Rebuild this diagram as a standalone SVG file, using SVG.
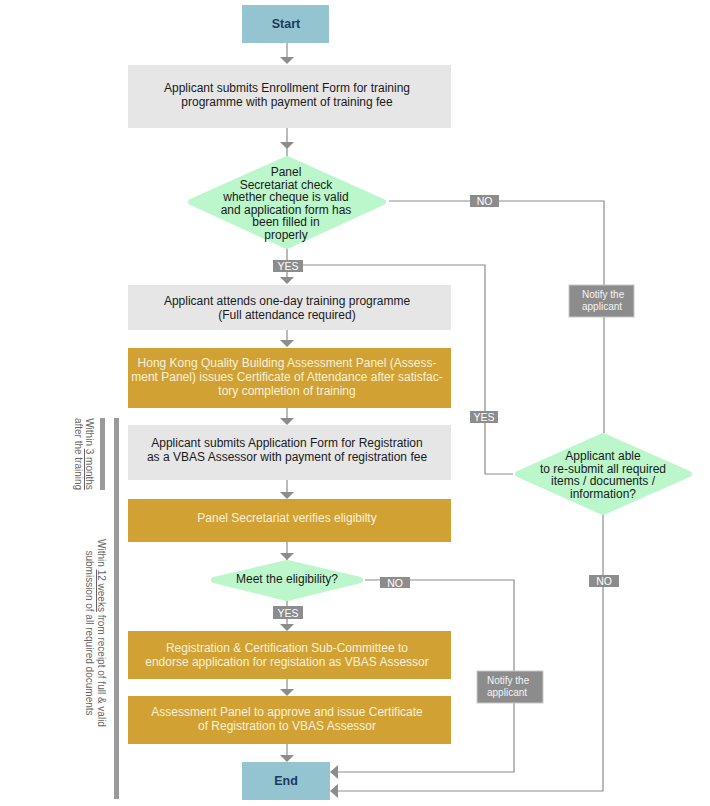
<svg xmlns="http://www.w3.org/2000/svg" width="710" height="806" viewBox="0 0 710 806">
<defs>
<style>
text{font-family:"Liberation Sans",Arial,sans-serif}
.term{fill:#93c4cf}
.termt{font-size:12.5px;font-weight:bold;fill:#1c3a5e;text-anchor:middle}
.gbox{fill:#e6e6e6}
.gt{font-size:12px;fill:#1a1a1a;text-anchor:middle}
.au{fill:#d1a233}
.aut{font-size:12px;fill:#f8f0da;text-anchor:middle}
.dia{fill:#bbf7cb;stroke:#bbf7cb;stroke-width:6;stroke-linejoin:round}
.dt{font-size:12px;fill:#1a1a1a;text-anchor:middle}
.lbl{fill:#8c8c8c}
.lt{font-size:10.5px;fill:#ffffff;text-anchor:middle}
.nb{fill:#8c8c8c;stroke:#c8c8c8;stroke-width:1}
.nt{font-size:10px;fill:#f4f4f4}
.ln{fill:none;stroke:#8c8c8c;stroke-width:1.2}
.ah{fill:#8c8c8c}
.bar{fill:#9a9a9a}
.vt{font-size:10px;fill:#666666;text-anchor:middle}
</style>
</defs>
<g id="connectors">
<path class="ln" d="M287,42V58"/>
<path class="ah" d="M280,57H294L287,64Z"/>
<path class="ln" d="M287,128V156"/>
<path class="ah" d="M280,142H294L287,149Z"/>
<path class="ln" d="M287,249V278"/>
<path class="ah" d="M280,277H294L287,284Z"/>
<path class="ln" d="M303,265H485V474H513"/>
<path class="ln" d="M389,201H604V433"/>
<path class="ln" d="M287,330V341"/>
<path class="ah" d="M280,340H294L287,347Z"/>
<path class="ln" d="M287,408V419"/>
<path class="ah" d="M280,418H294L287,425Z"/>
<path class="ln" d="M287,480V493"/>
<path class="ah" d="M280,492H294L287,499Z"/>
<path class="ln" d="M287,542V561"/>
<path class="ah" d="M280,553H294L287,560Z"/>
<path class="ln" d="M287,600V625"/>
<path class="ah" d="M280,624H294L287,631Z"/>
<path class="ln" d="M287,679V690"/>
<path class="ah" d="M280,689H294L287,696Z"/>
<path class="ln" d="M287,744V756"/>
<path class="ah" d="M280,755H294L287,762Z"/>
<path class="ln" d="M365,580H514V772H337"/>
<path class="ah" d="M338,765V779L330,772Z"/>
<path class="ln" d="M603,515V791H337"/>
<path class="ah" d="M338,784V798L330,791Z"/>
</g>
<g id="start">
<rect class="term" x="242" y="5" width="87" height="38"/>
<text class="termt" x="286" y="28">Start</text>
</g>
<g id="enroll">
<rect class="gbox" x="128" y="65" width="323" height="63"/>
<text class="gt" x="287" y="92">Applicant submits Enrollment Form for training</text>
<text class="gt" x="287" y="106">programme with payment of training fee</text>
</g>
<g id="check">
<polygon class="dia" points="287,159 383,202 287,246 191,202"/>
<text class="dt" x="286" y="176">Panel</text>
<text class="dt" x="286" y="188.5">Secretariat check</text>
<text class="dt" x="286" y="201">whether cheque is valid</text>
<text class="dt" x="286" y="213.5">and application form has</text>
<text class="dt" x="286" y="226">been filled in</text>
<text class="dt" x="286" y="238.5">properly</text>
</g>
<g id="yes1">
<rect class="lbl" x="273" y="260" width="30" height="12"/>
<text class="lt" x="288" y="270">YES</text>
</g>
<g id="no1">
<rect class="lbl" x="470" y="195" width="29" height="12"/>
<text class="lt" x="484.5" y="205">NO</text>
</g>
<g id="notify1">
<rect class="nb" x="569" y="285" width="65" height="32"/>
<text class="nt" x="582" y="298">Notify the</text>
<text class="nt" x="582" y="310">applicant</text>
</g>
<g id="attend">
<rect class="gbox" x="128" y="285" width="323" height="45"/>
<text class="gt" x="287" y="305">Applicant attends one-day training programme</text>
<text class="gt" x="287" y="319">(Full attendance required)</text>
</g>
<g id="certatt">
<rect class="au" x="128" y="348" width="323" height="60"/>
<text class="aut" x="287" y="367">Hong Kong Quality Building Assessment Panel (Assess-</text>
<text class="aut" x="287" y="381">ment Panel) issues Certificate of Attendance after satisfac-</text>
<text class="aut" x="287" y="395">tory completion of training</text>
</g>
<g id="appform">
<rect class="gbox" x="128" y="425" width="323" height="55"/>
<text class="gt" x="287" y="447">Applicant submits Application Form for Registration</text>
<text class="gt" x="287" y="461">as a VBAS Assessor with payment of registration fee</text>
</g>
<g id="verify">
<rect class="au" x="128" y="499" width="323" height="43"/>
<text class="aut" x="287" y="522">Panel Secretariat verifies eligibilty</text>
</g>
<g id="meet">
<polygon class="dia" points="287,563 360,580 287,598 214,580"/>
<text class="dt" x="287" y="583">Meet the eligibility?</text>
</g>
<g id="yes2">
<rect class="lbl" x="273" y="606" width="30" height="13"/>
<text class="lt" x="288" y="616.5">YES</text>
</g>
<g id="no2">
<rect class="lbl" x="380" y="577" width="30" height="11"/>
<text class="lt" x="395" y="586.5">NO</text>
</g>
<g id="notify2">
<rect class="nb" x="477" y="671" width="66" height="32"/>
<text class="nt" x="487" y="684">Notify the</text>
<text class="nt" x="487" y="696">applicant</text>
</g>
<g id="resubmit">
<polygon class="dia" points="603,436 689,474 603,512 518,474"/>
<text class="dt" x="603" y="460">Applicant able</text>
<text class="dt" x="603" y="472.5">to re-submit all required</text>
<text class="dt" x="603" y="485">items / documents /</text>
<text class="dt" x="603" y="497.5">information?</text>
</g>
<g id="yes3">
<rect class="lbl" x="470" y="411" width="28" height="12"/>
<text class="lt" x="484" y="421">YES</text>
</g>
<g id="no3">
<rect class="lbl" x="589" y="575" width="30" height="12"/>
<text class="lt" x="604" y="585">NO</text>
</g>
<g id="endorse">
<rect class="au" x="128" y="631" width="323" height="48"/>
<text class="aut" x="287" y="652">Registration &amp; Certification Sub-Committee to</text>
<text class="aut" x="287" y="666">endorse application for registation as VBAS Assessor</text>
</g>
<g id="approve">
<rect class="au" x="128" y="696" width="323" height="48"/>
<text class="aut" x="287" y="716">Assessment Panel to approve and issue Certificate</text>
<text class="aut" x="287" y="730">of Registration to VBAS Assessor</text>
</g>
<g id="end">
<rect class="term" x="242" y="762" width="88" height="38"/>
<text class="termt" x="286" y="785">End</text>
</g>
<g id="timeframes">
<rect class="bar" x="100" y="418" width="5" height="72"/>
<rect class="bar" x="114" y="418" width="5" height="381"/>
<text class="vt" transform="translate(86,454) rotate(90)"><tspan x="0" y="0">Within <tspan text-decoration="underline">3 months</tspan></tspan><tspan x="0" y="11">after the training</tspan></text>
<text class="vt" transform="translate(98,633) rotate(90)"><tspan x="0" y="0">Within <tspan text-decoration="underline">12 weeks</tspan> from receipt of full &amp; valid</tspan><tspan x="0" y="12">submission of all required documents</tspan></text>
</g>
</svg>
